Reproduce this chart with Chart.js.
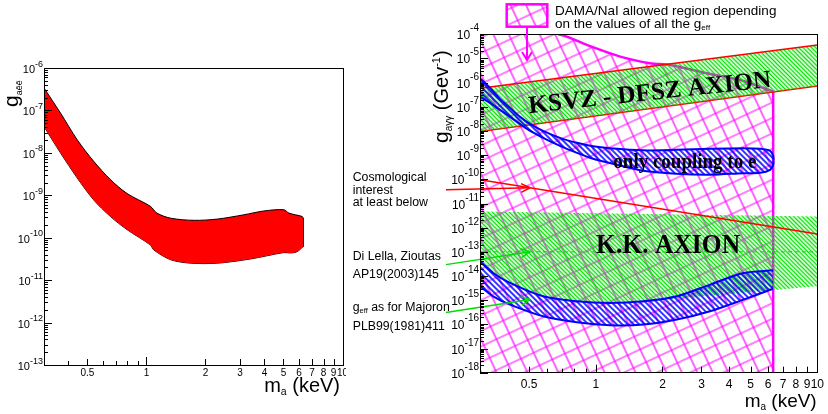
<!DOCTYPE html>
<html><head><meta charset="utf-8">
<script src="https://cdn.jsdelivr.net/npm/chart.js@4.4.1/dist/chart.umd.min.js"></script>
<style>
html,body{margin:0;padding:0;background:#fff;width:828px;height:414px;overflow:hidden;position:relative}
canvas{position:absolute;top:0}
#left{left:0}
#right{left:346px}
</style></head><body>
<canvas id="left" width="346" height="414"></canvas>
<canvas id="right" width="482" height="414"></canvas>
<script>
// ---------------- DATA ----------------
// mass axis tick values and labels (keV)
const massTickValues = [0.3,0.4,0.5,0.6,0.7,0.8,0.9,1,2,3,4,5,6,7,8,9,10];
const massLabelValues = [0.5,1,2,3,4,5,6,7,8,9,10];
const massLabels = ['0.5','1','2','3','4','5','6','7','8','9','10'];
// decade exponents of the y tick labels
const leftDecades = [-6,-7,-8,-9,-10,-11,-12,-13];
const rightDecades = [-4,-5,-6,-7,-8,-9,-10,-11,-12,-13,-14,-15,-16,-17,-18];

// Left panel: g_aee allowed band
const leftUpperM = [0.30,0.364,0.443,0.538,0.655,0.796,1.047,1.13,1.33,1.75,2.30,3.14,3.97,5.02,5.33,6.23,6.30];
const leftUpperG = [3.39e-7,8.71e-8,2.04e-8,6.31e-9,2.34e-9,1.10e-9,5.50e-10,3.80e-10,2.88e-10,2.57e-10,2.75e-10,3.47e-10,4.27e-10,4.57e-10,3.80e-10,3.16e-10,2.90e-10];
const leftLowerM = [0.30,0.364,0.443,0.538,0.655,0.796,1.047,1.09,1.33,1.68,2.30,3.40,5.02,5.43,5.87,6.30];
const leftLowerG = [4.17e-8,1.0e-8,2.57e-9,7.76e-10,3.16e-10,1.55e-10,6.76e-11,5.13e-11,3.02e-11,2.51e-11,2.51e-11,3.16e-11,4.47e-11,4.37e-11,4.68e-11,6.17e-11];

// Right panel: DAMA/NaI allowed region
const damaUpperM = [0.30,0.675,0.910,1.288,1.758,2.166,3.17,4.49,6.32];
const damaUpperG = [1e-4,1e-4,3.63e-5,1.19e-5,6.34e-6,5.4e-6,2.45e-6,1.29e-6,4.27e-7];
const damaLowerM = [0.30,6.32];
const damaLowerG = [1e-18,1e-18];
// KSVZ - DFSZ axion band
const ksvzUpperM = [0.3,10];
const ksvzUpperG = [5.89e-7,3.63e-5];
const ksvzLowerM = [0.3,10];
const ksvzLowerG = [9.55e-9,7.24e-7];
// only coupling to e
const elecUpperM = [0.30,0.333,0.369,0.410,0.455,0.505,0.578,0.689,0.822,0.972,1.159,1.636,2.307,3.281,4.624,5.521,6.124,6.32,6.35];
const elecUpperG = [1.52e-6,6.05e-7,2.13e-7,9.04e-8,3.84e-8,1.97e-8,1.01e-8,5.21e-9,3.24e-9,2.32e-9,1.92e-9,1.58e-9,1.66e-9,1.83e-9,1.92e-9,1.83e-9,1.51e-9,9.4e-10,6.2e-10];
const elecLowerM = [0.30,0.333,0.369,0.410,0.489,0.578,0.689,0.822,0.972,1.159,1.636,2.307,3.281,4.624,5.521,6.124,6.32,6.35];
const elecLowerG = [2.65e-7,1.45e-7,7.45e-8,3.84e-8,1.22e-8,5.21e-9,2.43e-9,1.25e-9,7.06e-10,4.70e-10,2.26e-10,1.70e-10,1.55e-10,1.78e-10,1.87e-10,2.48e-10,3.99e-10,6.2e-10];
// g_eff as for Majoron
const majUpperM = [0.30,0.344,0.410,0.578,0.820,1.159,1.641,2.323,3.28,4.645,6.31];
const majUpperG = [4.05e-14,1.34e-14,5.19e-15,1.45e-15,9.0e-16,7.74e-16,9.0e-16,1.45e-15,4.42e-15,1.34e-14,1.72e-14];
const majLowerM = [0.30,0.344,0.410,0.578,0.820,1.159,1.641,2.323,3.28,4.645,6.31];
const majLowerG = [3.76e-15,1.45e-15,6.59e-16,2.17e-16,1.22e-16,9.2e-17,9.8e-17,1.58e-16,3.48e-16,1.06e-15,2.93e-15];
// K.K. axion region
const kkUpperM = [0.3,10];
const kkUpperG = [4.71e-12,2.92e-12];
const kkLowerM = [0.30,0.344,0.410,0.578,0.820,1.159,1.641,3.28,10];
const kkLowerG = [4.05e-14,1.34e-14,5.19e-15,1.45e-15,9.0e-16,7.74e-16,9.0e-16,1.55e-15,3.76e-15];
// cosmological interest line, Di Lella-Zioutas line
const cosmoM = [0.3,10];
const cosmoG = [9.55e-11,5.5e-13];
const diLellaM = [0.3,10];
const diLellaG = [1e-13,1e-13];
// annotation arrows (tail, head)
const arrowCosmoM = [0.2105,0.505];
const arrowCosmoG = [3.71e-11,4.49e-11];
const arrowDiLellaM = [0.2105,0.505];
const arrowDiLellaG = [2.96e-14,1.02e-13];
const arrowMajM = [0.2105,0.505];
const arrowMajG = [3.08e-16,1.06e-15];

// ---------------- HELPERS ----------------
const zip = (xs, ys) => xs.map((x, i) => ({x, y: ys[i]}));
const SANS = '"Liberation Sans", Arial, Helvetica, sans-serif';
const SERIF = '"Liberation Serif", "Times New Roman", serif';
const f = (s, fam) => s + 'px ' + (fam || SANS);

function stripePattern(color, size, lw, angle) {
  const c = document.createElement('canvas'); c.width = size; c.height = size;
  const g = c.getContext('2d'); g.strokeStyle = color; g.lineWidth = lw;
  g.beginPath(); g.moveTo(0, size/2); g.lineTo(size, size/2); g.stroke();
  const p = g.createPattern(c, 'repeat');
  p.setTransform(new DOMMatrix().rotateSelf(angle));
  return p;
}
function gridPattern(color, size, lw, angle) {
  const c = document.createElement('canvas'); c.width = size; c.height = size;
  const g = c.getContext('2d'); g.strokeStyle = color; g.lineWidth = lw;
  g.beginPath(); g.moveTo(0, size/2); g.lineTo(size, size/2);
  g.moveTo(size/2, 0); g.lineTo(size/2, size); g.stroke();
  const p = g.createPattern(c, 'repeat');
  p.setTransform(new DOMMatrix().rotateSelf(angle));
  return p;
}
const crossHatch = gridPattern('#ff00ff', 14, 1.2, -25);
const greenHatch = stripePattern('#00e000', 3, 1.4, 45);
const blueHatch = stripePattern('#0000ff', 4, 1.6, 45);

function richWidth(ctx, parts) {
  let w = 0;
  for (const p of parts) { ctx.font = p[1]; w += ctx.measureText(p[0]).width; }
  return w;
}
function drawRich(ctx, parts, x, y, align) {
  const w = richWidth(ctx, parts);
  let cx = align === 'right' ? x - w : align === 'center' ? x - w/2 : x;
  for (const p of parts) {
    ctx.font = p[1];
    ctx.fillText(p[0], cx, y + (p[2] || 0));
    cx += ctx.measureText(p[0]).width;
  }
}

// ROOT-like axes, frame, titles and texts
const rootAxes = {
  id: 'rootAxes',
  afterDatasetsDraw(chart) {
    const ctx = chart.ctx;
    chart.data.datasets.forEach((ds, i) => {
      if (!ds.arrow) return;
      const pts = chart.getDatasetMeta(i).data;
      const a = pts[0], b = pts[1];
      const ang = Math.atan2(b.y - a.y, b.x - a.x);
      ctx.save();
      ctx.strokeStyle = ds.borderColor; ctx.lineWidth = ds.borderWidth;
      ctx.beginPath();
      for (const s of [-1, 1]) {
        ctx.moveTo(b.x, b.y);
        ctx.lineTo(b.x - 10 * Math.cos(ang + s * 0.45), b.y - 10 * Math.sin(ang + s * 0.45));
      }
      ctx.stroke();
      ctx.restore();
    });
  },
  afterDraw(chart, args, o) {
    const ctx = chart.ctx, a = chart.chartArea, xs = chart.scales.x, ys = chart.scales.y;
    ctx.save();
    ctx.strokeStyle = '#000'; ctx.lineWidth = 1; ctx.fillStyle = '#000';
    ctx.beginPath();
    for (const v of o.xTicks) {
      const px = Math.round(xs.getPixelForValue(v)) + 0.5;
      const len = (v === 1 || v === 10) ? o.majorLen : (o.xLabelVals.includes(v) ? o.midLen : o.minorLen);
      ctx.moveTo(px, a.bottom); ctx.lineTo(px, a.bottom - len);
    }
    const emin = Math.min(...o.decades), emax = Math.max(...o.decades);
    for (let e = emin; e < emax; e++) {
      for (let k = 1; k <= 9; k++) {
        const py = Math.round(ys.getPixelForValue(k * Math.pow(10, e))) + 0.5;
        const len = k === 1 ? o.majorLen : o.minorLen;
        ctx.moveTo(a.left, py); ctx.lineTo(a.left + len, py);
      }
    }
    ctx.stroke();
    ctx.strokeRect(Math.round(a.left) + 0.5, Math.round(a.top) + 0.5, Math.round(a.right - a.left), Math.round(a.bottom - a.top));
    ctx.textBaseline = 'alphabetic';
    for (const e of o.decades) {
      const py = ys.getPixelForValue(Math.pow(10, e));
      ctx.font = f(o.supSize); const ew = ctx.measureText('-' + Math.abs(e)).width;
      ctx.textAlign = 'right';
      ctx.fillText('-' + Math.abs(e), a.left - 1, py + o.supDy);
      ctx.font = f(o.labSize);
      ctx.fillText('10', a.left - 1 - ew, py + o.labDy);
    }
    ctx.textAlign = 'center'; ctx.font = f(o.xLabSize);
    o.xLabelVals.forEach((v, i) => {
      ctx.fillText(o.xLabels[i], xs.getPixelForValue(v), a.bottom + o.xLabDy);
    });
    ctx.textAlign = 'left';
    drawRich(ctx, o.xTitle, o.xTitlePos[0], o.xTitlePos[1], 'right');
    ctx.save(); ctx.translate(o.yTitlePos[0], o.yTitlePos[1]); ctx.rotate(-Math.PI/2);
    drawRich(ctx, o.yTitle, 0, 0, 'left'); ctx.restore();
    for (const t of (o.texts || [])) { ctx.fillStyle = t.color || '#000'; drawRich(ctx, t.parts, t.x, t.y, 'left'); }
    ctx.fillStyle = '#000';
    for (const l of (o.plotLabels || [])) {
      const px = xs.getPixelForValue(l.m), py = ys.getPixelForValue(l.g);
      ctx.font = l.font; const w = ctx.measureText(l.text).width;
      ctx.save(); ctx.translate(px, py); ctx.rotate(l.angle * Math.PI / 180);
      ctx.scale(l.width / w, 1); ctx.fillText(l.text, 0, 0); ctx.restore();
    }
    if (o.legend) o.legend(ctx);
    ctx.restore();
  }
};

Chart.defaults.font.family = SANS;
const baseOpts = {
  responsive: false, animation: false, devicePixelRatio: 1, events: [],
};
const line = (label, m, g, extra) => Object.assign({
  label, data: zip(m, g), pointRadius: 0, borderWidth: 1, fill: false, tension: 0
}, extra);
const NONE = 'rgba(0,0,0,0)';

// ---------------- LEFT CHART ----------------
new Chart(document.getElementById('left'), {
  type: 'line',
  data: { datasets: [
    line('g_aee upper', leftUpperM, leftUpperG, {borderColor: '#000', backgroundColor: '#ff0000', fill: '+1', tension: 0.3}),
    line('g_aee lower', leftLowerM, leftLowerG, {borderColor: '#000', tension: 0.3}),
    line('g_aee edge', [leftUpperM[leftUpperM.length-1], leftLowerM[leftLowerM.length-1]],
         [leftUpperG[leftUpperG.length-1], leftLowerG[leftLowerG.length-1]], {borderColor: '#000'})
  ]},
  options: Object.assign({}, baseOpts, {
    layout: {padding: {left: 44, top: 68, right: 3.5, bottom: 49}},
    scales: {
      x: {type: 'logarithmic', min: 0.3, max: 10, display: false},
      y: {type: 'logarithmic', min: 1e-13, max: 1e-6, display: false}
    },
    plugins: {
      legend: {display: false}, tooltip: {enabled: false},
      rootAxes: {
        xTicks: massTickValues, xLabelVals: massLabelValues, xLabels: massLabels,
        decades: leftDecades, majorLen: 8, midLen: 6, minorLen: 4,
        labSize: 11, supSize: 9, labDy: 5, supDy: -1.5, xLabSize: 10, xLabDy: 11,
        xTitle: [['m', f(20)], ['a', f(10.5), 3], [' (keV)', f(20)]], xTitlePos: [340, 392],
        yTitle: [['g', f(21)], ['aēē', f(9), 4]], yTitlePos: [18, 107]
      }
    }
  }),
  plugins: [rootAxes]
});

// ---------------- RIGHT CHART ----------------
const OX = 346;
const ann = 12.3;
new Chart(document.getElementById('right'), {
  type: 'line',
  data: { datasets: [
    line('arrow cosmological', arrowCosmoM, arrowCosmoG, {borderColor: '#ff0000', borderWidth: 1.5, clip: false, order: 0, arrow: true}),
    line('arrow Di Lella', arrowDiLellaM, arrowDiLellaG, {borderColor: '#00dd00', borderWidth: 1.5, clip: false, order: 0, arrow: true}),
    line('arrow Majoron', arrowMajM, arrowMajG, {borderColor: '#00dd00', borderWidth: 1.5, clip: false, order: 0, arrow: true}),
    line('cosmological interest', cosmoM, cosmoG, {borderColor: '#ff0000', borderWidth: 1.5, order: 1}),
    line('Di Lella, Zioutas', diLellaM, diLellaG, {borderColor: '#00dd00', borderWidth: 1, borderDash: [4, 3], order: 2}),
    line('only coupling to e upper', elecUpperM, elecUpperG, {borderColor: '#0000ff', borderWidth: 2, backgroundColor: blueHatch, fill: '+1', tension: 0.3, order: 3}),
    line('only coupling to e lower', elecLowerM, elecLowerG, {borderColor: '#0000ff', borderWidth: 2, tension: 0.3, order: 3}),
    line('Majoron upper', majUpperM, majUpperG, {borderColor: '#0000ff', borderWidth: 2, backgroundColor: blueHatch, fill: '+1', tension: 0.3, order: 3}),
    line('Majoron lower', majLowerM, majLowerG, {borderColor: '#0000ff', borderWidth: 2, tension: 0.3, order: 3}),
    line('KSVZ upper', ksvzUpperM, ksvzUpperG, {borderColor: '#ff0000', borderWidth: 1.5, backgroundColor: greenHatch, fill: '+1', order: 4}),
    line('KSVZ lower', ksvzLowerM, ksvzLowerG, {borderColor: '#ff0000', borderWidth: 1.5, order: 4}),
    line('KK upper', kkUpperM, kkUpperG, {borderColor: NONE, backgroundColor: greenHatch, fill: '+1', order: 5}),
    line('KK lower', kkLowerM, kkLowerG, {borderColor: NONE, tension: 0.3, order: 5}),
    line('DAMA upper', damaUpperM, damaUpperG, {borderColor: '#ff00ff', borderWidth: 2.5, backgroundColor: crossHatch, fill: '+1', tension: 0.3, order: 6,
      segment: {borderColor: c => c.p0DataIndex === 0 ? NONE : '#ff00ff'}}),
    line('DAMA lower', damaLowerM, damaLowerG, {borderColor: NONE, order: 6}),
    line('DAMA edge', [damaUpperM[damaUpperM.length-1], damaLowerM[damaLowerM.length-1]],
         [damaUpperG[damaUpperG.length-1], damaLowerG[damaLowerG.length-1]], {borderColor: '#ff00ff', borderWidth: 2.5, order: 6})
  ]},
  options: Object.assign({}, baseOpts, {
    layout: {padding: {left: 134, top: 34.3, right: 10.7, bottom: 41.3}},
    scales: {
      x: {type: 'logarithmic', min: 0.3, max: 10, display: false},
      y: {type: 'logarithmic', min: 1e-18, max: 1e-4, display: false}
    },
    plugins: {
      legend: {display: false}, tooltip: {enabled: false},
      rootAxes: {
        xTicks: massTickValues, xLabelVals: massLabelValues, xLabels: massLabels,
        decades: rightDecades, majorLen: 8, midLen: 6, minorLen: 4,
        labSize: 12, supSize: 10, labDy: 5, supDy: -3, xLabSize: 12, xLabDy: 15.5,
        xTitle: [['m', f(19)], ['a', f(10), 3], [' (keV)', f(19)]], xTitlePos: [816.7 - OX, 407],
        yTitle: [['g', f(21)], ['aγγ', f(10), 4], [' (Gev', f(20)], ['-1', f(11), -8], [')', f(20)]], yTitlePos: [448 - OX, 143],
        texts: [
          {parts: [['Cosmological', f(ann)]], x: 352.7 - OX, y: 180.7},
          {parts: [['interest', f(ann)]], x: 352.7 - OX, y: 193.5},
          {parts: [['at least below', f(ann)]], x: 352.7 - OX, y: 206},
          {parts: [['Di Lella, Zioutas', f(ann)]], x: 352.7 - OX, y: 260},
          {parts: [['AP19(2003)145', f(ann)]], x: 352.7 - OX, y: 278.3},
          {parts: [['g', f(ann)], ['eff', f(7.5), 2], [' as for Majoron', f(ann)]], x: 352.7 - OX, y: 310.7},
          {parts: [['PLB99(1981)411', f(ann)]], x: 352.7 - OX, y: 329.5},
          {parts: [['DAMA/NaI allowed region depending', f(13.5)]], x: 555 - OX, y: 15},
          {parts: [['on the values of all the g', f(13.5)], ['eff', f(8), 2]], x: 555 - OX, y: 27.5}
        ],
        plotLabels: [
          {text: 'KSVZ - DFSZ AXION', m: 0.501, g: 5.46e-8, width: 244, angle: -6.2, font: 'bold 25px ' + SERIF},
          {text: 'only coupling to e', m: 1.20, g: 2.92e-10, width: 143, angle: 0, font: 'bold 21px ' + SERIF},
          {text: 'K.K. AXION', m: 1.003, g: 9.0e-14, width: 144, angle: 0, font: 'bold 27px ' + SERIF}
        ],
        legend: (ctx) => {
          const x0 = 506.7 - OX, y0 = 4.3, w = 40.6, h = 22.4;
          ctx.save();
          ctx.fillStyle = crossHatch; ctx.fillRect(x0, y0, w, h);
          ctx.strokeStyle = '#ff00ff'; ctx.lineWidth = 2.5; ctx.strokeRect(x0, y0, w, h);
          const ax = x0 + w / 2;
          ctx.lineWidth = 2; ctx.beginPath();
          ctx.moveTo(ax, y0 + h); ctx.lineTo(ax, 60);
          ctx.moveTo(ax - 5, 52); ctx.lineTo(ax, 60); ctx.lineTo(ax + 5, 52);
          ctx.stroke();
          ctx.restore();
        }
      }
    }
  }),
  plugins: [rootAxes]
});
</script>
</body></html>
